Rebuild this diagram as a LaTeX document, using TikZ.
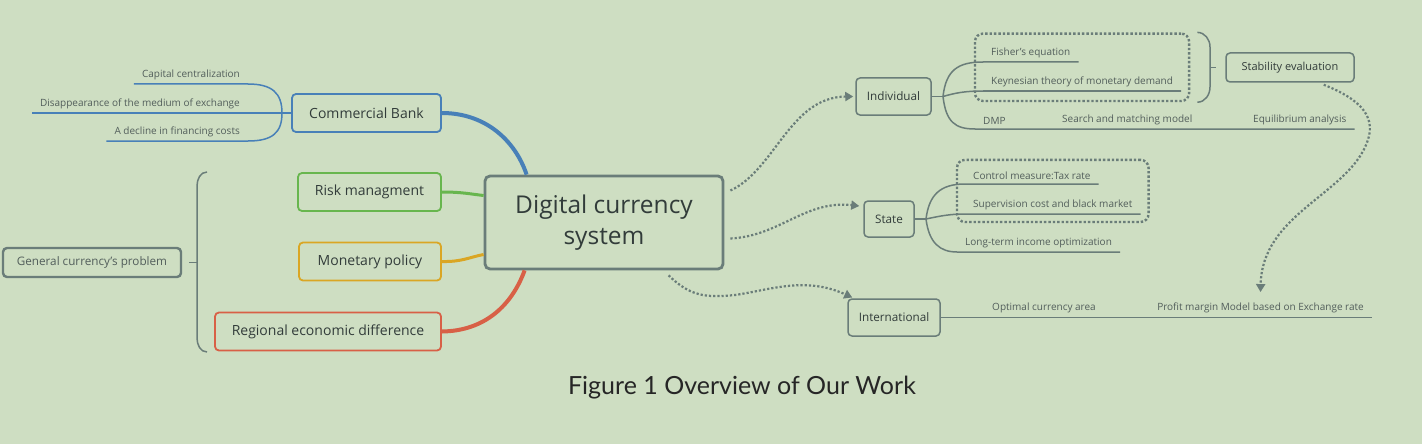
\documentclass[tikz,border=0pt]{standalone}
\usepackage{fontspec}
\setmainfont{Open Sans}
\newfontfamily\capfont{Lato}
\usetikzlibrary{positioning,arrows.meta,calc,fit}
\definecolor{bgc}{RGB}{206,222,194}
\definecolor{lnc}{RGB}{106,125,121}
\definecolor{txc}{RGB}{50,60,58}
\definecolor{lfc}{RGB}{82,94,91}
\definecolor{bluec}{RGB}{72,128,184}
\definecolor{greenc}{RGB}{104,182,78}
\definecolor{goldc}{RGB}{218,166,36}
\definecolor{redc}{RGB}{216,96,70}
\tikzset{
  central/.style={draw=lnc,rounded corners=5pt,line width=2.8pt,minimum width=238,minimum height=93,
    align=center,text=txc,font=\fontsize{24.5}{31}\selectfont},
  topic/.style={rounded corners=4pt,line width=1.8pt,minimum height=38,text=txc,font=\fontsize{14}{16}\selectfont},
  sub/.style={draw=lnc,rounded corners=4pt,line width=1.5pt,minimum height=37,text=txc,font=\fontsize{11.7}{14}\selectfont},
  leaf/.style={text=lfc,font=\fontsize{10}{12}\selectfont,inner xsep=8pt,inner ysep=4pt},
  twig/.style={lnc,line width=1.5pt},
  dotlink/.style={lnc,line width=2.2pt,dotted,-{Triangle[length=8pt,width=9pt]}},
  dotbox/.style={draw=lnc,line width=2.4pt,dotted,rounded corners=8pt},
  brc/.style={lnc,line width=1.5pt},
}
\begin{document}
\begin{tikzpicture}[x=1pt,y=-1pt]
  \fill[bgc] (0,0) rectangle (1422,444);
  \useasboundingbox (0,0) rectangle (1422,444);

  % central topic and main branches
  \node[central] (dcs) at (604,222.5) {Digital currency\\system};
  \node[topic,draw=bluec,minimum width=149] (cb) at (366.5,113) {Commercial Bank};
  \node[topic,draw=greenc,minimum width=143] (rm) at (369.5,192) {Risk managment};
  \node[topic,draw=goldc,minimum width=142] (mp) at (370,261.5) {Monetary policy};
  \node[topic,draw=redc,minimum width=226] (red) at (328,331.5) {Regional economic difference};
  \node[sub,line width=2.4pt,minimum width=178,minimum height=29,text=lfc] (gcp) at (92,262.5) {General currency's problem};

  \draw[bluec,line width=4pt] (cb.east) .. controls (485,113) and (515,140) .. ($(dcs.north west)+(43,0)$);
  \draw[greenc,line width=3pt] (rm.east) .. controls (462,192) and (470,194) .. ($(dcs.west)+(0,-27)$);
  \draw[goldc,line width=3pt] (mp.east) .. controls (462,262) and (470,257) .. ($(dcs.west)+(0,32)$);
  \draw[redc,line width=4pt] (red.east) .. controls (485,331) and (512,305) .. ($(dcs.south west)+(41,0)$);

  % commercial bank leaves
  \coordinate (cbj) at (282,113);
  \node[leaf,anchor=south east] (cc) at (248,84) {Capital centralization};
  \node[leaf,anchor=south east] (dme) at (248,113) {Disappearance of the medium of exchange};
  \node[leaf,anchor=south east] (dfc) at (248,141) {A decline in financing costs};
  \draw[twig,bluec] (cb.west) -- (cbj);
  \draw[twig,bluec] (cbj) .. controls (282,93) and (272,84) .. (cc.south east) -- (cc.south west);
  \draw[twig,bluec] (cbj) -- (dme.south west);
  \draw[twig,bluec] (cbj) .. controls (282,133) and (272,141) .. (dfc.south east) -- (dfc.south west);

  % bracket to general problem
  \draw[brc] (207,172) to[out=180,in=90] (197,186) -- (197,338) to[out=-90,in=180] (207,352);
  \draw[brc] (197,262.5) -- ($(gcp.east)+(7,0)$);

  % right side subtopics
  \node[sub,minimum width=75] (ind) at (893.5,96.5) {Individual};
  \node[sub,minimum width=50,minimum height=36] (st) at (889,219) {State};
  \node[sub,minimum width=92] (intl) at (894,317.5) {International};
  \node[sub,minimum width=128,minimum height=29,font=\fontsize{11}{13}\selectfont] (se) at (1290,67.5) {Stability evaluation};

  \draw[dotlink] ($(dcs.east)+(6,-32)$) .. controls (775,170) and (790,97) .. ([xshift=-2pt]ind.west);
  \draw[dotlink] ($(dcs.east)+(6,16)$) .. controls (780,236) and (805,200) .. ([shift={(-4pt,13pt)}]st.west);
  \draw[dotlink] ($(dcs.south west)+(185,5)$) .. controls (690,296) and (705,298) .. (735,295)
    .. controls (770,290) and (805,276) .. ([shift={(5pt,20pt)}]intl.west);

  % individual leaves
  \coordinate (indj) at (943,96.5);
  \node[leaf,anchor=south west] (fe) at (983,62) {Fisher's equation};
  \node[leaf,anchor=south west] (ktm) at (983,91) {Keynesian theory of monetary demand};
  \node[leaf,anchor=south west] (dmp) at (975,129) {DMP};
  \node[leaf,anchor=south west] (smm) at (1054,129) {Search and matching model};
  \node[leaf,anchor=south west] (eqa) at (1245,129) {Equilibrium analysis};
  \draw[twig] (ind.east) -- (indj);
  \draw[twig] (indj) .. controls (946,70) and (958,62) .. (fe.south west) -- (fe.south east);
  \draw[twig] (indj) .. controls (955,93) and (965,91) .. (ktm.south west) -- (ktm.south east);
  \draw[twig] (indj) .. controls (946,122) and (955,129) .. (dmp.south west) -- (eqa.south east);
  \node[dotbox,fit=(fe)(ktm),inner xsep=8pt,inner ysep=10pt] (fk) {};
  \draw[brc] (fk.north east) ++(7,0) to[out=0,in=90] (1210,47) -- (1210,87) to[out=-90,in=0] ($(fk.south east)+(7,0)$);
  \draw[brc] (1210,67.5) -- ($(se.west)+(-9,0)$);

  % state leaves
  \coordinate (stj) at (926,219);
  \node[leaf,anchor=south west] (cm) at (965,184) {Control measure:Tax rate};
  \node[leaf,anchor=south west] (scb) at (965,214) {Supervision cost and black market};
  \node[leaf,anchor=south west] (lio) at (957,252) {Long-term income optimization};
  \draw[twig] (st.east) -- (stj);
  \draw[twig] (stj) .. controls (929,195) and (940,184) .. (cm.south west) -- (cm.south east);
  \draw[twig] (stj) .. controls (940,216) and (950,214) .. (scb.south west) -- (scb.south east);
  \draw[twig] (stj) .. controls (929,243) and (940,252) .. (lio.south west) -- (lio.south east);
  \node[dotbox,fit=(cm)(scb),inner xsep=8pt,inner ysep=8pt] (csb) {};

  % international leaves
  \node[leaf,anchor=south] (oca) at (1044,317.5) {Optimal currency area};
  \node[leaf,anchor=south east] (pm) at (1372,317.5) {Profit margin Model based on Exchange rate};
  \draw[twig] (intl.east) -- (pm.south east);
  \draw[dotlink] ($(se.south east)+(-31,2)$) .. controls (1362,100) and (1378,118) .. (1366,145)
    .. controls (1345,195) and (1262,215) .. ([yshift=7pt]pm.north);

  % caption
  \node[font=\capfont\fontsize{25}{29}\selectfont,text=black!85,anchor=base] (fig) at (742,394) {Figure 1 Overview of Our Work};
\end{tikzpicture}
\end{document}
